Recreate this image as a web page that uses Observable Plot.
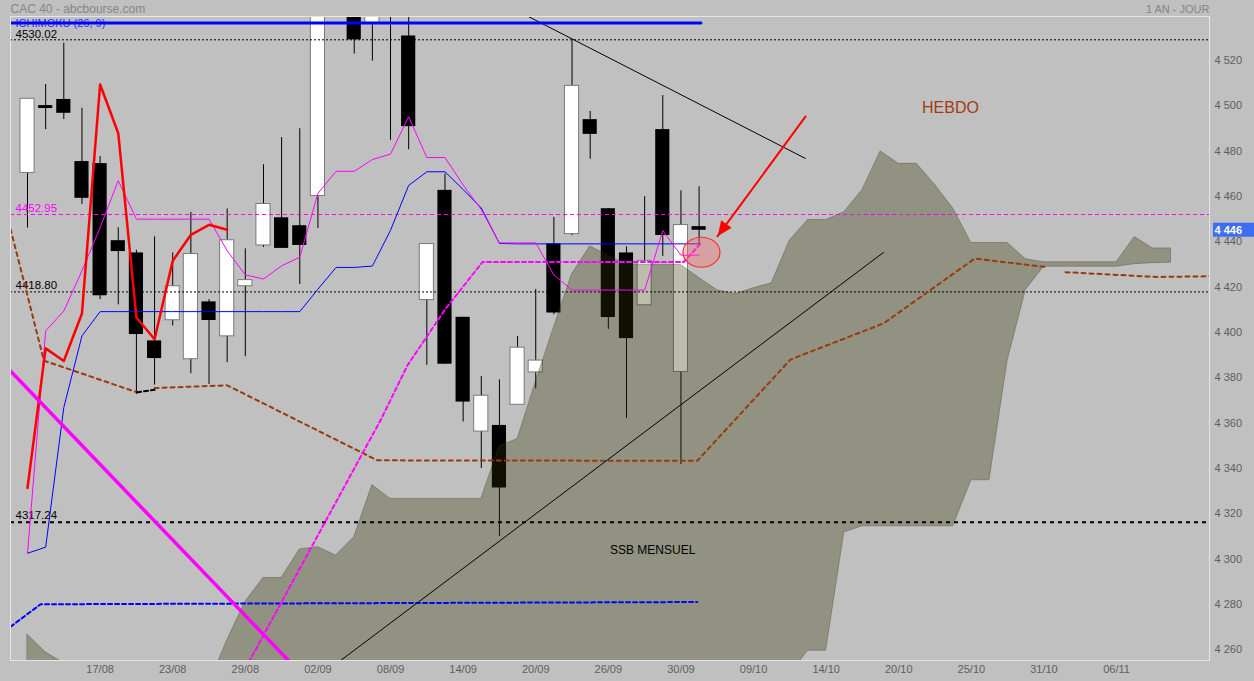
<!DOCTYPE html>
<html><head><meta charset="utf-8">
<script src="https://cdn.jsdelivr.net/npm/d3@7"></script>
<script src="https://cdn.jsdelivr.net/npm/@observablehq/plot@0.6"></script>
<style>
html,body{margin:0;padding:0;background:#c0c0c0;}
#chart svg{display:block;}
</style></head><body><div id="chart"></div>
<script>
// ---- x axis (trading-day index) labels
const xTickIdx = [4,8,12,16,20,24,28,32,36,40,44,48,52,56,60];
const xTickLabels = ["17/08","23/08","29/08","02/09","08/09","14/09","20/09","26/09","30/09","09/10","14/10","20/10","25/10","31/10","06/11"];
const yTicks = [4260,4280,4300,4320,4340,4360,4380,4400,4420,4440,4460,4480,4500,4520];

// ---- daily candles (index 0 = 11/08)
const openP  = [4471.3,4501.0,4503.7,4476.3,4475.4,4441.4,4436.0,4397.2,4406.3,4389.1,4414.4,4399.2,4421.3,4439.3,4451.5,4448.0,4461.1,4547.0,4548.0,4537.5,4542.0,4531.7,4415.2,4463.6,4407.6,4357.2,4359.9,4369.0,4383.3,4440.0,4444.3,4494.8,4455.5,4436.0,4412.9,4490.4,4383.5,4447.6];
const highP  = [4504.0,4510.3,4528.5,4499.8,4478.6,4447.1,4437.2,4443.1,4436.0,4453.9,4415.4,4455.4,4437.8,4474.9,4486.9,4490.8,4545.0,4560.0,4552.0,4550.0,4555.0,4545.0,4439.9,4470.8,4407.6,4381.5,4380.0,4399.1,4419.9,4451.7,4530.0,4498.4,4455.5,4438.7,4460.8,4505.4,4463.4,4465.2];
const lowP   = [4447.0,4490.4,4494.8,4457.4,4415.4,4413.1,4373.6,4377.7,4403.8,4382.7,4378.0,4387.6,4390.2,4438.4,4438.0,4422.1,4446.8,4541.0,4523.7,4520.6,4485.7,4481.5,4386.4,4386.9,4361.4,4340.9,4311.0,4369.0,4376.0,4408.7,4443.6,4477.3,4402.3,4363.0,4412.9,4434.4,4342.7,4439.9];
const closeP = [4504.0,4499.7,4497.6,4460.1,4417.1,4436.6,4400.0,4389.4,4421.3,4435.5,4406.2,4441.6,4424.0,4457.6,4438.0,4439.3,4542.2,4550.0,4530.0,4545.0,4545.0,4491.7,4439.9,4386.9,4370.2,4373.0,4332.3,4394.2,4388.5,4409.5,4509.7,4488.3,4407.5,4398.2,4432.5,4443.7,4448.3,4446.0];

// ---- Ichimoku lines
const tenkan = [4303.5,4401.6,4410.4,4428.1,4447.2,4467.9,4450.9,4450.9,4450.9,4450.9,4450.9,4437.0,4426.3,4424.5,4430.3,4434.1,4462.3,4472.0,4472.0,4477.2,4479.6,4496.1,4478.1,4478.1,4466.0,4455.1,4440.4,4440.4,4440.4,4426.3,4419.6,4419.6,4419.6,4419.6,4419.6,4445.8,4435.0,4435.0];
const kijun  = [4303.5,4306.2,4367.8,4399.4,4410.1,4410.1,4410.1,4410.1,4410.1,4410.1,4410.1,4410.1,4410.1,4410.1,4410.1,4410.1,4420.0,4429.6,4429.6,4430.2,4446.0,4465.8,4471.8,4471.8,4464.0,4455.8,4440.2,4440.0,4440.0,4440.0,4440.0,4440.0,4440.0,4440.0,4440.0,4440.0,4440.0,4440.0];
const chikou = [4332.3,4393.9,4388.3,4409.3,4510.3,4488.8,4407.5,4397.9,4432.5,4444.0,4448.4,4446.2];
const cloudUpper = [4267.6,4259.8,4255.0,4248.0,4245.0,4242.0,4240.0,4240.0,4240.0,4242.0,4246.0,4265.0,4282.0,4292.6,4292.6,4305.2,4306.2,4302.5,4310.6,4333.6,4327.5,4327.5,4327.5,4327.5,4327.5,4327.5,4350.6,4353.9,4379.0,4403.0,4426.6,4438.9,4434.7,4431.0,4430.7,4430.7,4430.7,4425.0,4419.5,4417.8,4420.4,4422.6,4441.5,4450.5,4450.5,4454.0,4463.8,4480.8,4475.3,4475.3,4466.0,4455.6,4440.4,4440.4,4440.4,4433.2,4431.9,4431.9,4431.9,4431.9,4431.9,4443.0,4438.0,4438.0];
const cloudLower = [4230,4230,4230,4230,4230,4230,4230,4230,4230,4230,4230,4230,4230,4230,4230,4230,4230,4230,4230,4230,4230,4230,4230,4230,4230,4230,4230,4230,4230,4230,4230,4230,4230,4230,4230,4230,4230,4235,4238,4240,4242,4245,4250.0,4260.5,4260.5,4312.7,4315.4,4315.4,4315.4,4315.4,4315.4,4315.4,4335.7,4335.7,4388.5,4419.6,4429.9,4429.9,4429.9,4429.9,4429.9,4431.0,4431.5,4431.7];

// ---- drawn annotations, [index, value]
const levels = [4530.02, 4452.95, 4418.80, 4317.24];
const topBlueLine = [[-0.937,4537.4],[37.1,4537.4]];
const brownA = [[-0.937,4446.6],[-0.02,4417.8],[0.9,4388.5],[6.04,4374.5]];
const blackDots = [[6.04,4374.5],[7.0,4375.6]];
const brownB = [[7.0,4376.4],[11.0,4377.6],[19.27,4344.5],[36.9,4344.3],[42.04,4389.0],[47.16,4404.9],[52.18,4433.5],[56.09,4429.8]];
const brownC = [[57.19,4427.5],[62.2,4425.4],[65.12,4425.7]];
const blueDots = [[-0.937,4271.1],[0.72,4281.0],[36.9,4282.0]];
const magentaDash = [[11.82,4250.0],[12.29,4256.9],[19.45,4362.2],[20.94,4386.5],[23.0,4411.0],[25.07,4432.0],[36.15,4432.0],[37.07,4440.0]];
const magentaThick = [[-0.937,4383.9],[15.0,4251.0]];
const downTrend = [[27.3,4541.5],[42.85,4477.7]];
const upTrend = [[17.0,4254.7],[47.16,4436.2]];
const arrowShaft = [[42.87,4496.2],[38.02,4443.4]];
const arrowTip = [[38.02,4443.4]];
const circleCenter = [[37.13,4436.3]];
const notes = [{p:[50.85,4500.2], t:"HEBDO"}];
const notes2 = [{p:[34.44,4304.7], t:"SSB MENSUEL"}];
const lastPrice = [4446];

const X0 = -0.937, X1 = 65.12;
const candles = openP.map((o,i)=>({i, o, h:highP[i], l:lowP[i], c:closeP[i]}));
const up = candles.filter(d=>d.c>=d.o), down = candles.filter(d=>d.c<d.o);
const cloud = cloudUpper.map((u,i)=>({i, u, l:cloudLower[i]}));
const series = arr => arr.map((v,i)=>({i, v}));
const fmt = d => d3.format(",")(d).replace(/,/g," ");
const FONT = "'Liberation Sans', Arial, sans-serif";
const px = d=>d[0], py = d=>d[1];

// custom symbols
const triUx = -0.588, triUy = 0.809;
const arrowHead = {draw(ctx){ const L=15, W=6.5; const bx=-triUx*L, by=-triUy*L, qx=-triUy, qy=triUx;
  ctx.moveTo(0,0); ctx.lineTo(bx+qx*W, by+qy*W); ctx.lineTo(bx-qx*W, by-qy*W); ctx.closePath(); }};
const ellipse = {draw(ctx){ const rx=18.5, ry=15, k=0.5523;
  ctx.moveTo(rx,0); ctx.bezierCurveTo(rx,k*ry,k*rx,ry,0,ry); ctx.bezierCurveTo(-k*rx,ry,-rx,k*ry,-rx,0);
  ctx.bezierCurveTo(-rx,-k*ry,-k*rx,-ry,0,-ry); ctx.bezierCurveTo(k*rx,-ry,rx,-k*ry,rx,0); ctx.closePath(); }};

const chart = Plot.plot({
  width:1254, height:681, marginLeft:10, marginRight:45, marginTop:16, marginBottom:21,
  style:{background:"#c0c0c0", fontFamily:FONT, fontSize:"11px", overflow:"visible"},
  x:{type:"linear", domain:[X0, X1]},
  y:{type:"linear", domain:[4256.2, 4540.3]},
  marks:[
    // candles
    Plot.ruleX(candles, {x:"i", y1:"l", y2:"h", stroke:"#000", strokeWidth:1, clip:true}),
    Plot.rect(up, {x1:d=>d.i-0.39, x2:d=>d.i+0.39, y1:"o", y2:"c", fill:"#ffffff", stroke:"#7a7a7a", strokeWidth:1, clip:true}),
    Plot.rect(down, {x1:d=>d.i-0.39, x2:d=>d.i+0.39, y1:"o", y2:"c", fill:"#000000", clip:true}),
    // kumo
    Plot.areaY(cloud, {x:"i", y1:"l", y2:"u", fill:"rgb(50,50,0)", fillOpacity:0.32, stroke:"rgb(60,60,30)", strokeOpacity:0.35, clip:true}),
    // horizontal levels
    Plot.ruleY([levels[0]], {stroke:"#000", strokeDasharray:"2,2"}),
    Plot.ruleY([levels[1]], {stroke:"#ff00ff", strokeDasharray:"4,3"}),
    Plot.ruleY([levels[2]], {stroke:"#000", strokeDasharray:"2,2"}),
    Plot.ruleY([levels[3]], {stroke:"#000", strokeWidth:2, strokeDasharray:"4,4"}),
    Plot.text([levels[0]], {x:X0, y:d=>d, text:d=>d.toFixed(2), dx:5, dy:-5.5, textAnchor:"start", fill:"#000", fontSize:11.5}),
    Plot.text([levels[1]], {x:X0, y:d=>d, text:d=>d.toFixed(2), dx:5, dy:-6.5, textAnchor:"start", fill:"#ff00ff", fontSize:11.5}),
    Plot.text([levels[2]], {x:X0, y:d=>d, text:d=>d.toFixed(2), dx:5, dy:-6.5, textAnchor:"start", fill:"#000", fontSize:11.5}),
    Plot.text([levels[3]], {x:X0, y:d=>d, text:d=>d.toFixed(2), dx:5, dy:-6.5, textAnchor:"start", fill:"#000", fontSize:11.5}),
    // dotted / dashed annotation curves
    Plot.line(brownA, {x:px, y:py, stroke:"#9a3a0c", strokeWidth:2, strokeDasharray:"4,4", clip:true}),
    Plot.line(blackDots, {x:px, y:py, stroke:"#000", strokeWidth:2, strokeDasharray:"4,3", clip:true}),
    Plot.line(brownB, {x:px, y:py, stroke:"#9a3a0c", strokeWidth:2, strokeDasharray:"4,4", clip:true}),
    Plot.line(brownC, {x:px, y:py, stroke:"#9a3a0c", strokeWidth:2, strokeDasharray:"4,4", clip:true}),
    Plot.line(blueDots, {x:px, y:py, stroke:"#0000ff", strokeWidth:2, strokeDasharray:"4,3", clip:true}),
    Plot.line(magentaDash, {x:px, y:py, stroke:"#ff00ff", strokeWidth:2, strokeDasharray:"4,3", clip:true}),
    // ichimoku lines
    Plot.line(series(kijun), {x:"i", y:"v", stroke:"#0000ff", strokeWidth:1, clip:true}),
    Plot.line(series(tenkan), {x:"i", y:"v", stroke:"#ff00ff", strokeWidth:1, clip:true}),
    Plot.line(series(chikou), {x:"i", y:"v", stroke:"#ff0000", strokeWidth:2.5, clip:true}),
    // trend lines
    Plot.line(magentaThick, {x:px, y:py, stroke:"#ff00ff", strokeWidth:3.5, clip:true}),
    Plot.line(downTrend, {x:px, y:py, stroke:"#000", strokeWidth:1, clip:true}),
    Plot.line(upTrend, {x:px, y:py, stroke:"#000", strokeWidth:1, clip:true}),
    // legend text + top line
    Plot.text(["ICHIMOKU (26, 9)"], {frameAnchor:"top-left", dx:5, dy:6.5, lineAnchor:"middle", textAnchor:"start", fill:"#2a2aff", fontSize:11}),
    Plot.line(topBlueLine, {x:px, y:py, stroke:"#0000ff", strokeWidth:3, clip:true}),
    // highlight circle + arrow
    Plot.dot(circleCenter, {x:px, y:py, symbol:ellipse, r:10, fill:"rgb(255,110,110)", fillOpacity:0.38, stroke:"#ff2a2a", strokeWidth:1.2}),
    Plot.line(arrowShaft, {x:px, y:py, stroke:"#ff0000", strokeWidth:2}),
    Plot.dot(arrowTip, {x:px, y:py, symbol:arrowHead, r:10, fill:"#ff0000", stroke:"none"}),
    // notes
    Plot.text(notes, {x:d=>d.p[0], y:d=>d.p[1], text:"t", fill:"#a03c10", fontSize:16, textAnchor:"middle"}),
    Plot.text(notes2, {x:d=>d.p[0], y:d=>d.p[1], text:"t", fill:"#000", fontSize:12, textAnchor:"middle"}),
    // header
    Plot.text(["CAC 40 - abcbourse.com"], {frameAnchor:"top-left", dy:-7, lineAnchor:"middle", textAnchor:"start", fill:"#858585", fontSize:12}),
    Plot.text(["1 AN - JOUR"], {frameAnchor:"top-right", dy:-7, lineAnchor:"middle", textAnchor:"end", fill:"#858585", fontSize:11}),
    // axes
    Plot.axisX({ticks:xTickIdx, tickFormat:d=>xTickLabels[xTickIdx.indexOf(d)], tickSize:0, tickPadding:5, fill:"#5e5e5e", fontSize:11, label:null}),
    Plot.axisY({anchor:"right", ticks:yTicks, tickFormat:fmt, tickSize:0, tickPadding:5, textAnchor:"start", fill:"#5e5e5e", fontSize:11, dy:-2, label:null}),
    // last price tag
    Plot.rect(lastPrice, {x1:X1+4/18.15, x2:X1+46/18.15, y1:d=>d-3.1, y2:d=>d+3.1, fill:"#3d6ef5"}),
    Plot.text(lastPrice, {x:X1, y:d=>d, text:fmt, dx:5, textAnchor:"start", fill:"#ffffff", fontWeight:"bold", fontSize:11}),
    Plot.frame({stroke:"#e6e6e6"})
  ]
});
document.getElementById("chart").append(chart);
</script></body></html>
